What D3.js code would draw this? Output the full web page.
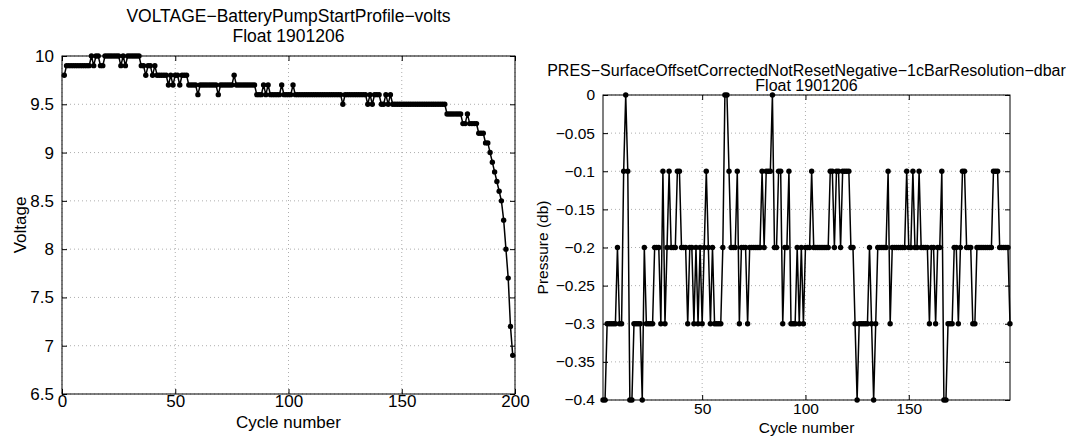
<html>
<head>
<script src="https://cdn.jsdelivr.net/npm/d3@7"></script>
<style>
  body { margin: 0; background: #fff; }
  text { font-family: "Liberation Sans", Arial, sans-serif; fill: #000; }
</style>
</head>
<body>
<svg id="chart" width="1071" height="444"></svg>
<script>
// voltage, cycles 1..199
const voltValues = [
  9.8,9.9,9.9,9.9,9.9,9.9,9.9,9.9,9.9,9.9,9.9,9.9,10,9.9,10,10,9.9,9.9,10,10,
  10,10,10,10,10,9.9,10,9.9,10,10,10,10,10,10,9.9,9.9,9.8,9.9,9.9,9.8,
  9.9,9.8,9.8,9.8,9.8,9.8,9.7,9.8,9.7,9.8,9.8,9.7,9.8,9.8,9.8,9.7,9.7,9.7,9.7,9.6,
  9.7,9.7,9.7,9.7,9.7,9.7,9.7,9.7,9.6,9.7,9.7,9.7,9.7,9.7,9.7,9.8,9.7,9.7,9.7,9.7,
  9.7,9.7,9.7,9.7,9.7,9.6,9.6,9.6,9.7,9.6,9.7,9.6,9.6,9.6,9.6,9.6,9.7,9.6,9.6,9.6,
  9.6,9.7,9.6,9.6,9.6,9.6,9.6,9.6,9.6,9.6,9.6,9.6,9.6,9.6,9.6,9.6,9.6,9.6,9.6,9.6,
  9.6,9.6,9.6,9.5,9.6,9.6,9.6,9.6,9.6,9.6,9.6,9.6,9.6,9.6,9.5,9.6,9.5,9.6,9.6,9.6,
  9.5,9.5,9.6,9.5,9.6,9.5,9.5,9.5,9.5,9.5,9.5,9.5,9.5,9.5,9.5,9.5,9.5,9.5,9.5,9.5,
  9.5,9.5,9.5,9.5,9.5,9.5,9.5,9.5,9.5,9.4,9.4,9.4,9.4,9.4,9.4,9.4,9.3,9.3,9.4,9.3,
  9.3,9.3,9.3,9.2,9.2,9.2,9.1,9.1,9.0,8.9,8.8,8.7,8.6,8.5,8.3,8.0,7.7,7.2,6.9
];
const voltStart = 1;

// pressure, cycles 2..199
const presValues = [
  -0.4,-0.4,-0.3,-0.3,-0.3,-0.3,-0.3,-0.2,-0.3,-0.3,-0.1,0,-0.1,-0.4,-0.4,-0.3,-0.3,-0.3,-0.3,-0.4,
  -0.2,-0.3,-0.3,-0.3,-0.3,-0.2,-0.2,-0.2,-0.3,-0.1,-0.3,-0.2,-0.1,-0.2,-0.2,-0.2,-0.1,-0.1,-0.2,-0.2,
  -0.2,-0.3,-0.2,-0.2,-0.3,-0.2,-0.3,-0.2,-0.3,-0.2,
  -0.1,-0.2,-0.3,-0.2,-0.3,-0.3,-0.3,-0.3,-0.2,0,0,-0.1,-0.2,-0.2,-0.2,-0.1,-0.3,-0.2,-0.2,-0.2,
  -0.3,-0.2,-0.2,-0.2,-0.2,-0.2,-0.2,-0.1,-0.2,-0.1,-0.1,-0.1,0,-0.2,-0.2,-0.1,-0.1,-0.3,-0.2,-0.2,
  -0.1,-0.3,-0.3,-0.3,-0.2,-0.3,-0.2,-0.3,-0.2,
  -0.2,-0.2,-0.1,-0.2,-0.2,-0.2,-0.2,-0.2,-0.2,-0.2,-0.2,-0.1,-0.1,-0.2,-0.1,-0.1,-0.2,-0.1,-0.1,-0.1,
  -0.1,-0.2,-0.2,-0.3,-0.4,-0.3,-0.3,-0.3,-0.3,-0.3,-0.2,-0.3,-0.4,-0.3,-0.2,-0.2,-0.2,-0.2,-0.2,-0.1,
  -0.3,-0.2,-0.2,-0.2,-0.2,-0.2,-0.2,-0.2,-0.1,
  -0.2,-0.2,-0.1,-0.2,-0.2,-0.1,-0.2,-0.2,-0.2,-0.2,-0.3,-0.2,-0.2,-0.3,-0.2,-0.2,-0.1,-0.4,-0.4,-0.3,
  -0.3,-0.3,-0.2,-0.2,-0.3,-0.2,-0.1,-0.1,-0.2,-0.2,-0.2,-0.3,-0.3,-0.2,-0.2,-0.2,-0.2,-0.2,-0.2,-0.2,
  -0.2,-0.1,-0.1,-0.1,-0.2,-0.2,-0.2,-0.2,-0.2,-0.3
];
const presStart = 2;

const voltXTicks = [0, 50, 100, 150, 200];
const voltYTicks = [6.5, 7, 7.5, 8, 8.5, 9, 9.5, 10];
const presXTicks = [50, 100, 150];
const presYTicks = [-0.4, -0.35, -0.3, -0.25, -0.2, -0.15, -0.1, -0.05, 0];

const svg = d3.select('#chart');
const fmt = d => String(d).replace('-', '\u2212');

function panel(o) {
  const x = d3.scaleLinear().domain(o.xDomain).range([o.left, o.right]);
  const y = d3.scaleLinear().domain(o.yDomain).range([o.bottom, o.top]);
  const g = svg.append('g');
  const grid = g.append('g').attr('stroke', '#999').attr('stroke-dasharray', '1,3').attr('stroke-width', 0.8);
  o.xTicks.forEach(t => grid.append('line').attr('x1', x(t)).attr('x2', x(t)).attr('y1', o.top).attr('y2', o.bottom));
  o.yTicks.forEach(t => grid.append('line').attr('y1', y(t)).attr('y2', y(t)).attr('x1', o.left).attr('x2', o.right));

  const data = o.values.map((v, i) => [o.start + i, v]);
  g.append('path').datum(data)
    .attr('fill', 'none').attr('stroke', '#000').attr('stroke-width', 1.5)
    .attr('d', d3.line().x(d => x(d[0])).y(d => y(d[1])));
  g.selectAll('circle.m').data(data).join('circle')
    .attr('cx', d => x(d[0])).attr('cy', d => y(d[1])).attr('r', 2.7).attr('fill', '#000');

  const ax = (gen, tr) => g.append('g').attr('transform', tr).call(gen)
    .call(s => s.select('.domain').remove())
    .call(s => s.selectAll('line').attr('stroke', '#000'))
    .call(s => s.selectAll('text').attr('font-size', o.fs).attr('fill', '#000'));
  ax(d3.axisBottom(x).tickValues(o.xTicks).tickSize(-5).tickPadding(o.xpad).tickFormat(fmt), `translate(0,${o.bottom})`);
  ax(d3.axisTop(x).tickValues(o.xTicks).tickSize(-5).tickFormat(''), `translate(0,${o.top})`);
  ax(d3.axisLeft(y).tickValues(o.yTicks).tickSize(-5).tickPadding(8).tickFormat(fmt), `translate(${o.left},0)`);
  ax(d3.axisRight(y).tickValues(o.yTicks).tickSize(-5).tickFormat(''), `translate(${o.right},0)`);
  g.append('rect').attr('x', o.left).attr('y', o.top).attr('width', o.right - o.left).attr('height', o.bottom - o.top)
    .attr('fill', 'none').attr('stroke', '#000').attr('stroke-width', 1);

  const cx = (o.left + o.right) / 2;
  o.title.forEach((t, i) => g.append('text').attr('x', cx).attr('y', o.titleY + i * o.titleGap)
    .attr('text-anchor', 'middle').attr('font-size', o.tfs).text(t));
  g.append('text').attr('x', cx).attr('y', o.xlabY).attr('text-anchor', 'middle').attr('font-size', o.fs).text('Cycle number');
  g.append('text').attr('transform', `translate(${o.ylabX},${(o.top + o.bottom) / 2}) rotate(-90)`)
    .attr('text-anchor', 'middle').attr('font-size', o.fs).text(o.ylab);
}

panel({
  left: 62, right: 515, top: 56, bottom: 394,
  xDomain: [0, 200], yDomain: [6.5, 10],
  xTicks: voltXTicks, yTicks: voltYTicks,
  values: voltValues, start: voltStart,
  title: ['VOLTAGE\u2212BatteryPumpStartProfile\u2212volts', 'Float 1901206'],
  titleY: 22, titleGap: 20, tfs: 17.5, fs: 17, xpad: 1,
  xlabY: 428, ylabX: 26, ylab: 'Voltage'
});

panel({
  left: 603, right: 1010, top: 95, bottom: 400,
  xDomain: [2, 199], yDomain: [-0.4, 0],
  xTicks: presXTicks, yTicks: presYTicks,
  values: presValues, start: presStart,
  title: ['PRES\u2212SurfaceOffsetCorrectedNotResetNegative\u22121cBarResolution\u2212dbar', 'Float 1901206'],
  titleY: 76, titleGap: 15, tfs: 16, fs: 15.5, xpad: 3,
  xlabY: 433, ylabX: 548, ylab: 'Pressure (db)'
});
</script>
</body>
</html>
